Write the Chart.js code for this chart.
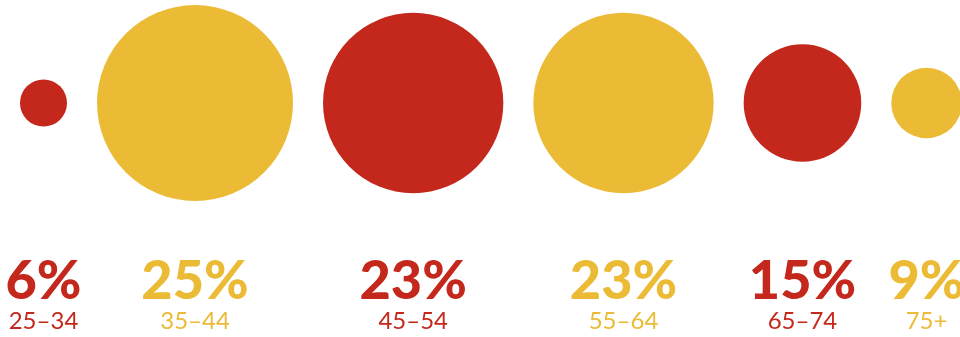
<!DOCTYPE html>
<html>
<head>
<meta charset="utf-8">
<script src="https://cdn.jsdelivr.net/npm/chart.js@4/dist/chart.umd.min.js"></script>
<style>
  html, body { margin: 0; padding: 0; background: #fff; }
  canvas { display: block; }
</style>
</head>
<body>
<canvas id="ageChart" width="960" height="337"></canvas>
<script>
const ageGroups = ['25–34', '35–44', '45–54', '55–64', '65–74', '75+'];
const shares = [6, 25, 23, 23, 15, 9];

const RED = '#c4281c';
const YELLOW = '#ebbb36';
const colors = shares.map((v, i) => (i % 2 === 0 ? RED : YELLOW));

// bubble radius grows with the share, bubbles sit in a row with a fixed gap
const pxPerPoint = 3.92;
const gap = 30;
const rowY = 103;
const firstCenter = 43.5;

const bubbles = [];
let cursor = firstCenter;
shares.forEach((v, i) => {
    const r = v * pxPerPoint;
    if (i > 0) cursor += bubbles[i - 1].r + gap + r;
    bubbles.push({ x: cursor, y: rowY, r: r });
});

const labelPlugin = {
    id: 'bubbleLabels',
    afterDatasetsDraw(chart) {
        const ctx = chart.ctx;
        const meta = chart.getDatasetMeta(0);
        ctx.save();
        ctx.textAlign = 'center';
        ctx.textBaseline = 'alphabetic';
        meta.data.forEach((pt, i) => {
            ctx.fillStyle = colors[i];
            ctx.font = '900 54px Lato';
            ctx.fillText(shares[i] + '%', pt.x, 299);
            ctx.font = '400 24px Lato';
            ctx.fillText(ageGroups[i], pt.x, 329);
        });
        ctx.restore();
    }
};

const ctx = document.getElementById('ageChart').getContext('2d');
const ageChart = new Chart(ctx, {
    type: 'bubble',
    data: {
        labels: ageGroups,
        datasets: [{
            data: bubbles,
            backgroundColor: colors,
            borderWidth: 0,
            hoverRadius: 0,
            clip: false
        }]
    },
    options: {
        responsive: false,
        animation: false,
        layout: { padding: 0, autoPadding: false },
        plugins: {
            legend: { display: false },
            tooltip: { enabled: false }
        },
        scales: {
            x: { type: 'linear', min: 0, max: 960, display: false },
            y: { type: 'linear', min: 0, max: 337, reverse: true, display: false }
        }
    },
    plugins: [labelPlugin]
});
</script>
</body>
</html>
